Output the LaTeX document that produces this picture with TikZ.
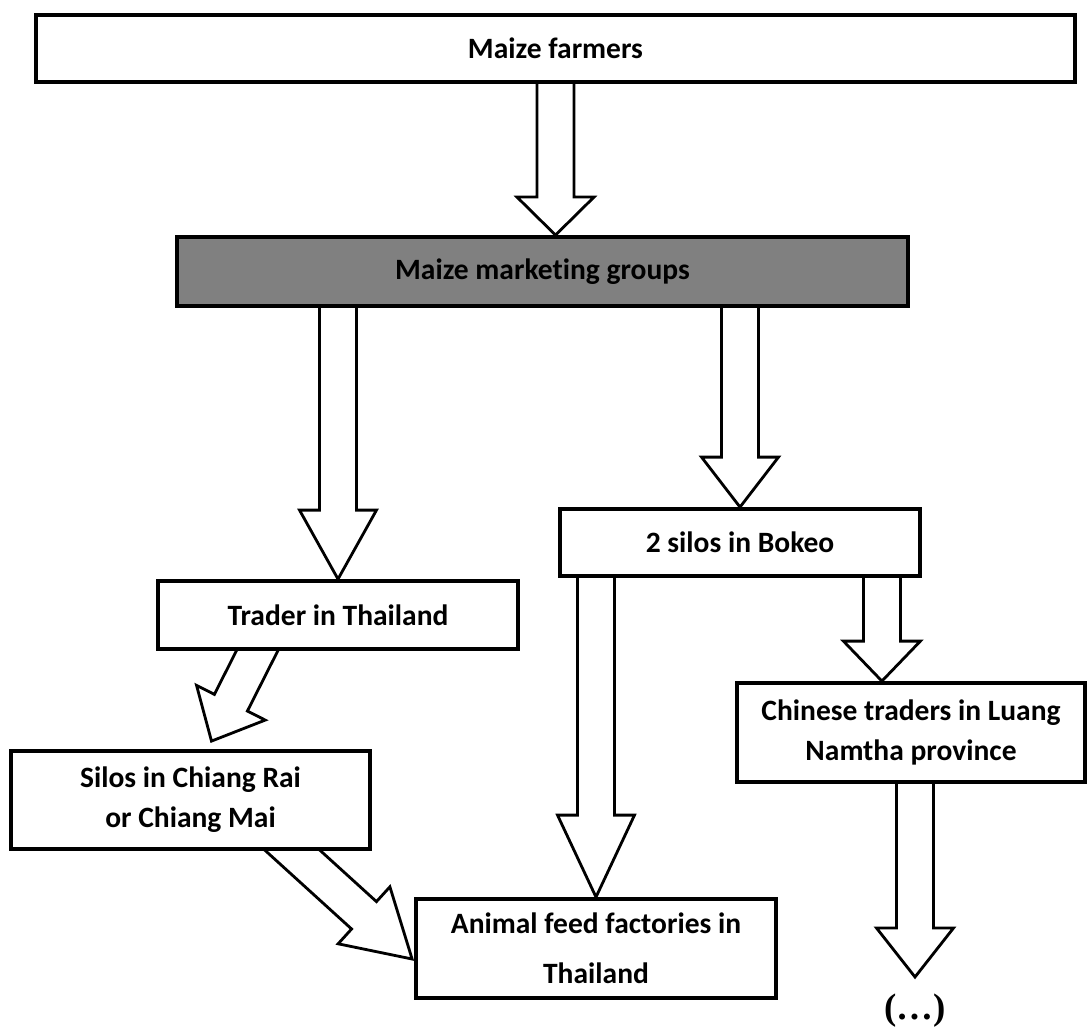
\documentclass[tikz,border=0pt]{standalone}
\usepackage{fontspec}
\setmainfont{Carlito}[Ligatures=NoCommon]
\newfontfamily\dotsfont{Liberation Serif}
\usetikzlibrary{calc, backgrounds}

% block arrow: start, tip, head length
\newcommand{\flow}[3]{%
  \coordinate (hb) at ($(#2)!#3!(#1)$);
  \filldraw[flowarrow] ($(#1)!0.37cm!90:(#2)$) -- ($(hb)!0.37cm!90:(#2)$)
    -- ($(hb)!0.77cm!90:(#2)$) -- (#2) -- ($(hb)!0.77cm!-90:(#2)$)
    -- ($(hb)!0.37cm!-90:(#2)$) -- ($(#1)!0.37cm!-90:(#2)$);
}

\begin{document}
\begin{tikzpicture}[x=0.02cm, y=-0.02cm,
    box/.style={draw, line width=2.2pt, fill=white, align=center, inner sep=0pt,
      font=\bfseries\fontsize{16.8}{22.7}\selectfont},
    flowarrow/.style={draw, fill=white, line width=1.6pt, line join=miter}]
  \useasboundingbox (0,0) rectangle (1087,1028);

  \node[box, minimum width=20.78cm, minimum height=1.34cm] (farmers) at (555.5,48.5) {Maize farmers};
  \node[box, fill=black!50, minimum width=14.62cm, minimum height=1.38cm] (groups) at (542.5,271.5) {Maize marketing groups};
  \node[box, minimum width=7.2cm, minimum height=1.34cm] (bokeo) at (740,542.5) {2 silos in Bokeo};
  \node[box, minimum width=7.2cm, minimum height=1.36cm] (trader) at (338,615) {Trader in Thailand};
  \node[box, minimum width=6.96cm, minimum height=1.98cm] (chinese) at (911,732.5) {Chinese traders in Luang\\Namtha province};
  \node[box, minimum width=7.18cm, minimum height=1.96cm] (silos) at (190.5,800) {Silos in Chiang Rai\\or Chiang Mai};
  \node[box, minimum width=7.2cm, minimum height=1.98cm] (animal) at (596,948.5) {Animal feed factories in\\[5.7pt]Thailand};
  \node[font=\dotsfont\bfseries\fontsize{21}{24}\selectfont] (dots) at (915,1011) {(\dots)};

  \coordinate (e1) at ($(bokeo.south east)+(-40,0)$);
  \coordinate (f2) at ($(dots.center)+(0,-34)$);

  \begin{pgfonlayer}{background}
    \flow{farmers.south}{farmers.south |- groups.north}{0.76cm}
    \flow{groups.south -| trader.north}{trader.north}{1.38cm}
    \flow{groups.south -| bokeo.north}{bokeo.north}{1.0cm}
    \flow{bokeo.south -| animal.north}{animal.north}{1.64cm}
    \flow{e1}{e1 |- chinese.north}{0.8cm}
    \flow{chinese.south -| f2}{f2}{0.98cm}
    \flow{$(trader.south west)+(106,-10)$}{$(silos.north)+(21,-8)$}{0.86cm}
    \flow{$(silos.south)+(84,-17)$}{$(animal.west)+(-2,10.5)$}{1.3cm}
  \end{pgfonlayer}
\end{tikzpicture}
\end{document}
